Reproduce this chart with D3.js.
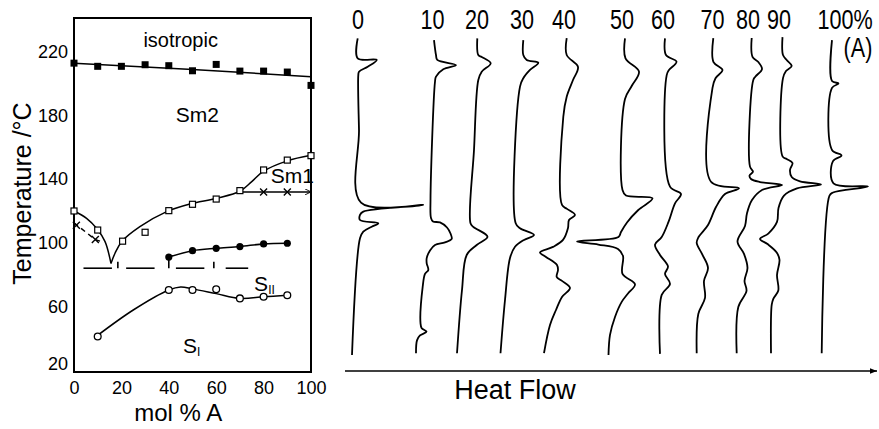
<!doctype html>
<html>
<head>
<meta charset="utf-8">
<title>Phase diagram and DSC traces</title>
<script src="https://d3js.org/d3.v7.min.js"></script>
<style>
  body { margin: 0; background: #fff; }
  svg text { font-family: "Liberation Sans", Arial, sans-serif; fill: #000; }
  .axis text { font-size: 18px; }
  .curve { fill: none; stroke: #000; stroke-width: 1.5; }
  .trace { fill: none; stroke: #000; stroke-width: 1.8; stroke-linejoin: round; }
</style>
</head>
<body>
<div id="chart"></div>
<script>
const W = 879, H = 429;

// ---- phase diagram data (mol % A, temperature in degC) ----
const tempTicks = [20, 60, 100, 140, 180, 220];
const molTicks = [0, 20, 40, 60, 80, 100];

const isoPoints = [[0,213],[10,211],[20,211],[30,212],[40,211.4],[50,208.2],[60,212.2],[70,208],[80,208],[90,207.4],[100,199]];
const isoLine = [[0,213],[50,209],[100,204.5]];

const sm1Points = [[0,120],[10,108],[20.5,101],[30,106.6],[40,120.2],[50,124.2],[60,127.5],[70,132.8],[80,145.8],[90,152],[100,154.8]];
const sm1LeftBranch = [[0,120],[5.3,115.4],[9.6,109],[13.1,100.7],[15.6,87]];
const sm1RightBranch = [[15.6,87],[17.3,93.4],[20.1,100.7],[27.8,110.1],[39.1,119.6],[48.9,124.4],[60.2,128],[70,132.4],[75,138.5],[80,145],[90,151.5],[100,155]];

const crossPoints = [[1,111],[9,102],[80,132],[90,132]];
const crossLeftLine = [[0,112.5],[9,102],[12,100.5]];
const crossRightLine = [[70,132],[100,132]];

const sIIPoints = [[40,91],[50,95],[60,96.5],[70,97.6],[80,99.3],[90,99.7]];
const eutecticT = 84;
const eutecticDashes = [[4,16],[22,34],[43,55],[64,73.5]];
const eutecticMarks = [18.5, 40, 59];

const sIPoints = [[10,41],[40,70.3],[50,70.3],[60,70.7],[70,65],[80,66],[90,67]];
const sILine = [[9.3,41],[25,57.7],[40,70.3],[45,72.2],[50,71],[60,68],[70,65],[80,66],[90,67]];

// ---- DSC traces: [temperature degC, heat flow (arb. units)] ----
const traceLabels = ["0","10","20","30","40","50","60","70","80","90","100%"];
const traceLabelPos = [13, 87.5, 132, 177, 219, 277, 318, 367.5, 403, 434, 500];

const trace0 = [[228.6,12.7],[216.0,12.7],[215.0,31.7],[210.8,22.7],[207.6,14],[205.5,13.3],[170.9,14],[125.2,16],[123.8,78.3],[119.6,18.3],[117.5,15],[114.3,15],[112.3,33.3],[110.1,26.7],[107.0,18.3],[102.8,15],[29.4,7]];
const trace10 = [[227.5,89],[218.1,91],[215.0,92.3],[211.8,111],[209.1,98.3],[204.5,91],[201.3,90],[126.9,85.5],[115.6,86],[113.4,88],[112.8,95],[109.6,102],[105.8,105.5],[102.4,106.7],[100.2,100],[98.6,90],[95.2,85],[90.3,81.7],[87.1,81.7],[82.9,83.3],[80.4,80],[72.4,77.7],[49.4,75.5],[46.2,76.7],[44.1,81.5],[41.7,75],[38.6,72],[30.5,71]];
const trace20 = [[228.6,132.3],[218.1,133.3],[216.9,136.7],[212.9,145.7],[207.6,136.7],[202.4,133.3],[158.4,129],[112.3,125.5],[110.0,128.3],[103.8,142.5],[98.6,131.7],[92.3,121.7],[70.3,117],[30.5,112]];
const trace30 = [[227.5,178.3],[218.1,178.3],[215.0,181.7],[213.3,193.3],[208.7,185],[203.5,178.3],[198.2,175],[112.3,170.7],[109.1,175],[104.9,189],[101.8,179],[97.5,170],[90.4,165],[64.0,160],[30.5,155.5]];
const trace40 = [[228.8,221.7],[218.1,221.7],[210.6,233],[202.4,228],[191.9,221.7],[179.3,218.3],[123.8,217],[121.3,222],[117.5,230],[114.3,224],[109.3,223],[101.8,218],[97.4,208],[93.9,195],[91.1,201],[86.0,212],[82.9,213],[78.5,211.7],[76.0,217],[71.6,225],[65.9,217],[57.7,211],[48.3,205],[30.6,199]];
const trace50 = [[228.6,280],[216.0,280.5],[207.6,294],[198.6,286.7],[190.4,280],[133.2,277.5],[129.7,281],[128.0,307.5],[120.6,293.3],[112.8,282],[106.8,276],[103.6,273.5],[100.8,232],[98.9,253.3],[96.1,273],[91.7,278],[80.4,277.5],[73.8,290],[68.1,283],[62.8,276.7],[53.3,270],[42.0,265],[29.4,263.5]];
const trace60 = [[228.6,320],[218.1,321],[213.9,331.5],[208.7,324],[205.5,321.7],[135.3,325],[130.7,336],[124.8,330],[113.1,323.5],[103.6,316.7],[98.9,310],[92.3,315],[85.0,323],[80.4,320],[74.1,325],[67.2,316.7],[30.1,315]];
const trace70 = [[228.8,368.3],[213.7,368.5],[208.7,377.5],[203.5,370.5],[197.4,367.5],[138.4,366],[134.3,394],[130.7,380],[122.5,371],[111.2,363],[103.3,353.3],[99.9,351.7],[93.0,357],[84.2,363],[76.0,359],[65.3,360],[55.2,353.3],[30.5,351.7]];
const trace80 = [[228.8,406.7],[217.0,407.5],[213.7,413.3],[209.3,417],[204.6,410.5],[202.4,408.3],[147.9,405],[144.7,408],[142.3,404.5],[140.1,406],[138.2,415],[136.4,437],[133.2,417],[126.9,407],[118.6,402],[110.6,400],[100.8,392.5],[93.0,399],[84.2,402.5],[76.0,399.5],[69.7,401.5],[59.6,393.3],[30.5,391.7]];
const trace90 = [[229.4,437.5],[218.1,438],[215.0,441.7],[211.2,446.7],[208.1,441],[203.6,438],[154.2,437.7],[152.7,441.7],[150.2,447.5],[145.8,445],[141.4,446.7],[138.6,455],[136.7,476],[134.2,452],[129.7,439],[121.9,433.5],[113.1,432],[105.8,423.3],[102.4,415],[99.2,422.5],[93.9,431.7],[89.2,434.5],[79.7,432],[70.0,433.3],[64.7,428.3],[60.9,426.7],[30.5,426]];
const trace100 = [[227.5,487],[201.8,487],[200.2,493.5],[197.4,487],[158.4,487],[154.9,496.5],[151.4,488],[137.4,488.5],[135.4,523],[131.6,488],[129.7,484.5],[30.5,476.7]];
const traces = [trace0, trace10, trace20, trace30, trace40, trace50, trace60, trace70, trace80, trace90, trace100];

// ---- scales ----
const x = d3.scaleLinear().domain([0, 100]).range([74, 311]);
const y = d3.scaleLinear().domain([18.7, 241.4]).range([372, 18]);
const hf = d3.scaleLinear().domain([0, 535]).range([345, 880]);

const svg = d3.select("#chart").append("svg")
  .attr("width", W).attr("height", H);

const defs = svg.append("defs");
defs.append("marker")
  .attr("id", "arrow")
  .attr("viewBox", "0 0 10 10")
  .attr("refX", 10).attr("refY", 5)
  .attr("markerWidth", 9).attr("markerHeight", 7)
  .attr("markerUnits", "userSpaceOnUse")
  .attr("orient", "auto")
  .append("path").attr("d", "M0,1 L10,5 L0,9 Z").attr("fill", "#000");
defs.append("marker")
  .attr("id", "arrowSmall")
  .attr("viewBox", "0 0 10 10")
  .attr("refX", 10).attr("refY", 5)
  .attr("markerWidth", 7).attr("markerHeight", 6)
  .attr("markerUnits", "userSpaceOnUse")
  .attr("orient", "auto")
  .append("path").attr("d", "M0,0 L10,5 L0,10").attr("fill", "none").attr("stroke", "#000").attr("stroke-width", 1.5);

// ---- phase diagram ----
const plot = svg.append("g");

plot.append("rect")
  .attr("x", x(0)).attr("y", y(241.4))
  .attr("width", x(100) - x(0)).attr("height", y(18.7) - y(241.4))
  .attr("fill", "none").attr("stroke", "#000").attr("stroke-width", 2);

const yAxis = plot.append("g").attr("class", "axis")
  .attr("transform", "translate(" + x(0) + ",0)")
  .call(d3.axisLeft(y).tickValues(tempTicks).tickSize(0).tickPadding(6));
yAxis.select(".domain").remove();
yAxis.selectAll("text").filter(d => d === 20).attr("dy", "-0.05em");

const xAxis = plot.append("g").attr("class", "axis")
  .attr("transform", "translate(0," + y(18.7) + ")")
  .call(d3.axisBottom(x).tickValues(molTicks).tickSize(0).tickPadding(9));
xAxis.select(".domain").remove();

const pline = d3.line().x(d => x(d[0])).y(d => y(d[1]));
const pcurve = d3.line().x(d => x(d[0])).y(d => y(d[1])).curve(d3.curveCatmullRom.alpha(0.5));

plot.append("path").attr("class", "curve").attr("d", pline(isoLine));
plot.append("path").attr("class", "curve").attr("d", pcurve(sm1LeftBranch));
plot.append("path").attr("class", "curve").attr("d", pcurve(sm1RightBranch));
plot.append("path").attr("class", "curve").attr("d", pcurve(sIIPoints));
plot.append("path").attr("class", "curve").attr("d", pcurve(sILine));
plot.append("path").attr("class", "curve")
  .attr("stroke-dasharray", "5,4")
  .attr("d", pline(crossLeftLine));
plot.append("path").attr("class", "curve")
  .attr("marker-end", "url(#arrowSmall)")
  .attr("d", pline(crossRightLine));

// eutectic line (broken) and small marks
plot.selectAll(".eut").data(eutecticDashes).enter().append("line")
  .attr("x1", d => x(d[0])).attr("x2", d => x(d[1]))
  .attr("y1", y(eutecticT)).attr("y2", y(eutecticT))
  .attr("stroke", "#000").attr("stroke-width", 1.6);
plot.selectAll(".eutm").data(eutecticMarks).enter().append("line")
  .attr("x1", d => x(d)).attr("x2", d => x(d))
  .attr("y1", y(eutecticT)).attr("y2", (d, i) => i === 1 ? y(sIIPoints[0][1]) : y(eutecticT + 4))
  .attr("stroke", "#000").attr("stroke-width", 1.6);

// markers
plot.selectAll(".fsq").data(isoPoints).enter().append("rect")
  .attr("x", d => x(d[0]) - 3.5).attr("y", d => y(d[1]) - 3.5)
  .attr("width", 7).attr("height", 7).attr("fill", "#000");
plot.selectAll(".osq").data(sm1Points).enter().append("rect")
  .attr("x", d => x(d[0]) - 3).attr("y", d => y(d[1]) - 3)
  .attr("width", 6).attr("height", 6)
  .attr("fill", "#fff").attr("stroke", "#000").attr("stroke-width", 1.2);
plot.selectAll(".fci").data(sIIPoints).enter().append("circle")
  .attr("cx", d => x(d[0])).attr("cy", d => y(d[1])).attr("r", 3.6).attr("fill", "#000");
plot.selectAll(".oci").data(sIPoints).enter().append("circle")
  .attr("cx", d => x(d[0])).attr("cy", d => y(d[1])).attr("r", 3.4)
  .attr("fill", "#fff").attr("stroke", "#000").attr("stroke-width", 1.3);
plot.selectAll(".crs").data(crossPoints).enter().append("path")
  .attr("d", d => {
    const cx = x(d[0]), cy = y(d[1]), s = 3.5;
    return `M${cx-s},${cy-s}L${cx+s},${cy+s}M${cx-s},${cy+s}L${cx+s},${cy-s}`;
  })
  .attr("stroke", "#000").attr("stroke-width", 1.4).attr("fill", "none");

// region labels
plot.append("text").attr("x", x(45)).attr("y", y(213) - 16)
  .attr("text-anchor", "middle").attr("font-size", 20).text("isotropic");
plot.append("text").attr("x", x(52)).attr("y", y(180) + 6)
  .attr("text-anchor", "middle").attr("font-size", 21).text("Sm2");
plot.append("text").attr("x", x(83)).attr("y", y(142) + 7)
  .attr("font-size", 21).text("Sm1");
const sII = plot.append("text").attr("x", x(76)).attr("y", y(74) + 7).attr("font-size", 21);
sII.append("tspan").text("S");
sII.append("tspan").attr("font-size", 12).attr("dy", 3).text("II");
const sI = plot.append("text").attr("x", x(46)).attr("y", y(35) + 7).attr("font-size", 21);
sI.append("tspan").text("S");
sI.append("tspan").attr("font-size", 12).attr("dy", 3).text("I");

// axis titles
svg.append("text")
  .attr("transform", "translate(31," + y(131) + ") rotate(-90)")
  .attr("text-anchor", "middle").attr("font-size", 25)
  .text("Temperature /°C");
svg.append("text")
  .attr("x", x(44)).attr("y", 421)
  .attr("text-anchor", "middle").attr("font-size", 24)
  .text("mol % A");

// ---- DSC traces ----
const traceLine = d3.line()
  .x(d => hf(d[1])).y(d => y(d[0]))
  .curve(d3.curveCatmullRom.alpha(0.5));

svg.selectAll(".trace").data(traces).enter().append("path")
  .attr("class", "trace")
  .attr("d", traceLine);

// condensed labels above the traces
svg.selectAll(".tlabel").data(traceLabels).enter().append("text")
  .attr("transform", (d, i) => "translate(" + hf(traceLabelPos[i]) + ",29) scale(0.8,1)")
  .attr("text-anchor", "middle")
  .attr("font-size", 27)
  .text(d => d);
svg.append("text")
  .attr("transform", "translate(" + hf(513) + ",57) scale(0.8,1)")
  .attr("text-anchor", "middle").attr("font-size", 27)
  .text("(A)");

// heat flow axis
svg.append("line")
  .attr("x1", hf(0)).attr("x2", hf(532))
  .attr("y1", 371).attr("y2", 371)
  .attr("stroke", "#000").attr("stroke-width", 1.6)
  .attr("marker-end", "url(#arrow)");
svg.append("text")
  .attr("x", hf(170)).attr("y", 399)
  .attr("text-anchor", "middle").attr("font-size", 27)
  .text("Heat Flow");
</script>
</body>
</html>
